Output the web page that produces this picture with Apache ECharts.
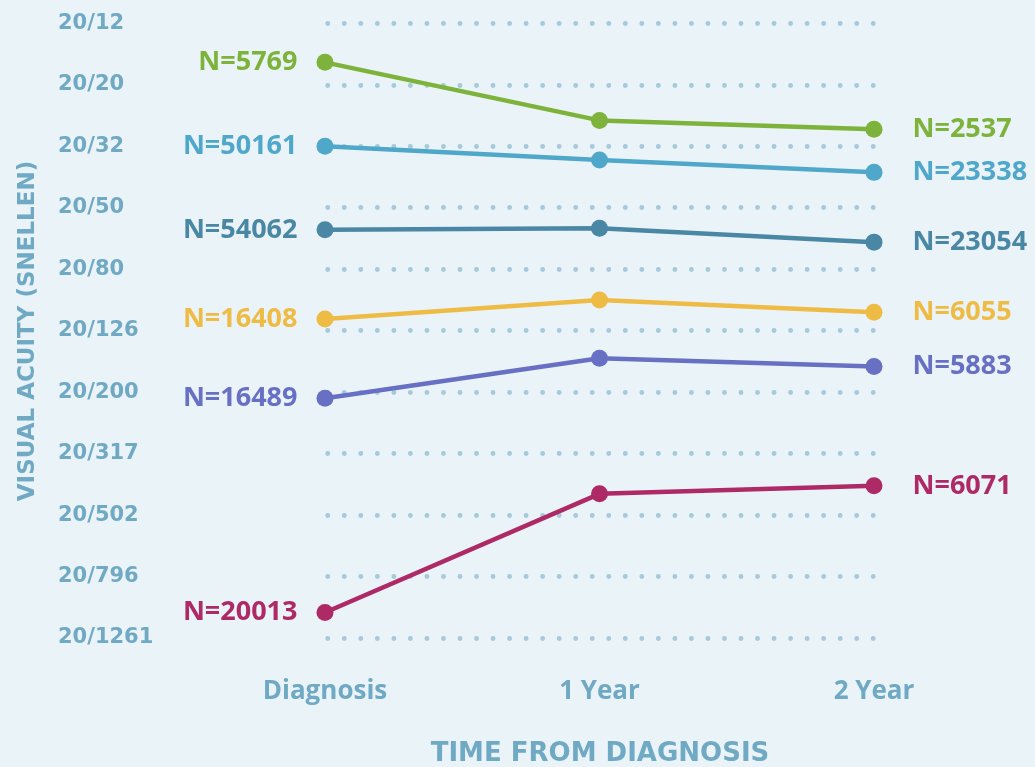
<!DOCTYPE html>
<html>
<head>
<meta charset="utf-8">
<script src="https://cdn.jsdelivr.net/npm/echarts@6/dist/echarts.min.js"></script>
<style>
html,body{margin:0;padding:0;background:#eaf3f8;}
#chart{width:1035px;height:767px;}
</style>
</head>
<body>
<div id="chart"></div>
<script>
// ---- data ----
const categories = ['Diagnosis', '1 Year', '2 Year'];
// Snellen tick labels, evenly spaced in logMAR from -0.2 to 1.8 (step 0.2)
const snellenTicks = ['20/12', '20/20', '20/32', '20/50', '20/80', '20/126', '20/200', '20/317', '20/502', '20/796', '20/1261'];
// mean visual acuity (logMAR) per time point
const greenValues   = [-0.073, 0.116, 0.145];
const cyanValues    = [0.200, 0.245, 0.285];
const tealValues    = [0.472, 0.467, 0.512];
const yellowValues  = [0.762, 0.700, 0.740];
const purpleValues  = [1.020, 0.890, 0.917];
const magentaValues = [1.717, 1.331, 1.305];
// sample sizes at diagnosis and at 2 years
const greenN   = [5769, 2537];
const cyanN    = [50161, 23338];
const tealN    = [54062, 23054];
const yellowN  = [16408, 6055];
const purpleN  = [16489, 5883];
const magentaN = [20013, 6071];

const seriesDefs = [
  { name: 'green',   values: greenValues,   n: greenN,   color: '#7db33b' },
  { name: 'cyan',    values: cyanValues,    n: cyanN,    color: '#4fa7ca' },
  { name: 'teal',    values: tealValues,    n: tealN,    color: '#4987a4' },
  { name: 'yellow',  values: yellowValues,  n: yellowN,  color: '#eebc45' },
  { name: 'purple',  values: purpleValues,  n: purpleN,  color: '#6870c4' },
  { name: 'magenta', values: magentaValues, n: magentaN, color: '#ae2a67' }
];

const axisColor = '#6fa9c3';
const labelFont = '"Open Sans", sans-serif';
const capsFont = '"DejaVu Sans", sans-serif';

function buildData(def) {
  return def.values.map(function (v, i) {
    if (i === 0) {
      return { value: v, label: { show: true, position: 'left', distance: 19, formatter: 'N=' + def.n[0] } };
    }
    if (i === def.values.length - 1) {
      return { value: v, label: { show: true, position: 'right', distance: 30, formatter: 'N=' + def.n[1] } };
    }
    return v;
  });
}

const chart = echarts.init(document.getElementById('chart'), null, { renderer: 'canvas' });
chart.setOption({
  backgroundColor: '#eaf3f8',
  animation: false,
  grid: { left: 325, right: 161, top: 23.3, bottom: 129, containLabel: false },
  xAxis: {
    type: 'category',
    data: categories,
    boundaryGap: false,
    axisLine: { show: false },
    axisTick: { show: false },
    splitLine: { show: false },
    axisLabel: {
      margin: 41,
      color: axisColor,
      fontFamily: labelFont,
      fontWeight: 'bold',
      fontSize: 26
    }
  },
  yAxis: {
    type: 'value',
    inverse: true,
    min: -0.2,
    max: 1.8,
    interval: 0.2,
    axisLine: { show: false },
    axisTick: { show: false },
    axisLabel: {
      margin: 267,
      align: 'left',
      padding: [4, 0, 0, 0],
      color: axisColor,
      fontFamily: capsFont,
      fontWeight: 'bold',
      fontSize: 21,
      formatter: function (v) {
        const idx = Math.round((v + 0.2) / 0.2);
        return snellenTicks[idx] || '';
      }
    },
    splitLine: {
      show: true,
      lineStyle: {
        color: '#a6cadb',
        width: 4.8,
        type: [0.1, 16.43],
        cap: 'round',
        dashOffset: -2.7
      }
    }
  },
  graphic: [
    {
      type: 'text',
      x: 600, y: 754,
      style: {
        text: 'TIME FROM DIAGNOSIS',
        fill: axisColor,
        font: 'bold 26px "DejaVu Sans", sans-serif',
        textAlign: 'center',
        textVerticalAlign: 'middle'
      }
    },
    {
      type: 'text',
      x: 28, y: 331,
      rotation: Math.PI / 2,
      style: {
        text: 'VISUAL ACUITY (SNELLEN)',
        fill: axisColor,
        font: 'bold 23px "DejaVu Sans", sans-serif',
        textAlign: 'center',
        textVerticalAlign: 'middle'
      }
    }
  ],
  series: seriesDefs.map(function (def) {
    return {
      name: def.name,
      type: 'line',
      data: buildData(def),
      symbol: 'circle',
      symbolSize: 17,
      showAllSymbol: true,
      lineStyle: { color: def.color, width: 4.5 },
      itemStyle: { color: def.color },
      emphasis: { disabled: true },
      label: {
        color: def.color,
        fontFamily: labelFont,
        fontWeight: 'bold',
        fontSize: 27
      }
    };
  })
});
</script>
</body>
</html>
